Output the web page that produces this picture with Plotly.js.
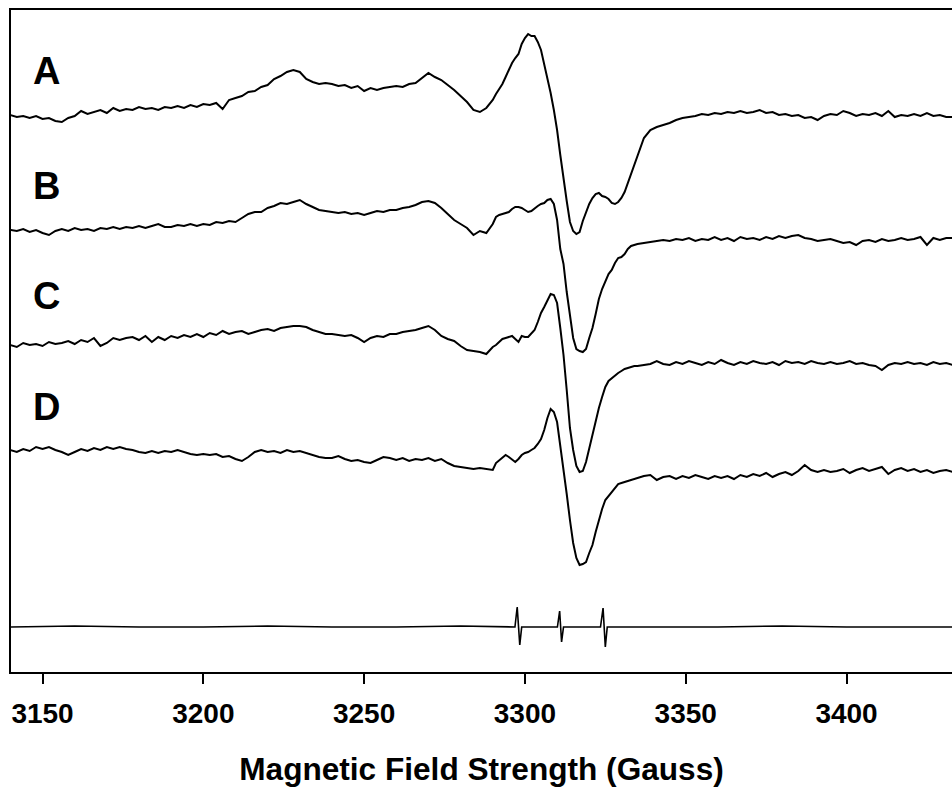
<!DOCTYPE html>
<html>
<head>
<meta charset="utf-8">
<script src="https://cdn.plot.ly/plotly-3.0.1.min.js"></script>
<style>
html, body { margin: 0; padding: 0; background: #fff; overflow: hidden; }
#chart { width: 952px; height: 787px; }
</style>
</head>
<body>
<div id="chart"></div>
<script>
// Magnetic field (Gauss) sampling points
const field = [
  3140,3142,3144,3146,3148,3150,3152,3154,3156,3158,
  3160,3162,3164,3166,3168,3170,3172,3174,3176,3178,
  3180,3182,3184,3186,3188,3190,3192,3194,3196,3198,
  3200,3202,3204,3206,3208,3210,3212,3214,3216,3218,
  3220,3222,3224,3226,3228,3230,3232,3234,3236,3238,
  3240,3242,3244,3246,3248,3250,3252,3254,3256,3258,
  3260,3262,3264,3266,3268,3270,3272,3274,3276,3278,
  3280,3282,3284,3286,3288,3290,
  3291,3292,3293,3294,3295,3296,3297,3298,3299,3300,
  3301,3302,3303,3304,3305,3306,3307,3308,3309,3310,
  3311,3312,3313,3314,3315,3316,3317,3318,3319,3320,
  3321,3322,3323,3324,3325,3326,3327,3328,3329,3330,
  3331,3332,3333,3334,3335,
  3337,3339,3341,3343,3345,3347,3349,3351,3353,3355,
  3357,3359,3361,3363,3365,3367,3369,3371,3373,3375,
  3377,3379,3381,3383,3385,3387,3389,3391,3393,3395,
  3397,3399,3401,3403,3405,3407,3409,3411,3413,3415,
  3417,3419,3421,3423,3425,3427,3429,3431,3433
];

// EPR signal (arbitrary units, stacked as drawn)
const signalA = [
  557,555,556,554,556,553,554,551,550,554,
  556,561,558,560,562,559,564,561,563,562,
  565,563,564,562,565,564,566,564,567,565,
  568,567,569,563,572,574,576,580,581,585,
  587,593,596,600,602,600,593,590,588,589,
  588,586,587,584,586,581,584,582,584,585,
  586,585,588,589,594,599,595,592,587,582,
  576,570,562,560,564,572,
  578,583,588,595,603,609,614,618,628,634,
  638,636,636,630,622,608,594,579,562,542,
  517,492,471,450,441,438,440,451,460,468,
  474,478,479,476,475,473,469,468,470,474,
  480,489,499,508,515,
  534,542,545,547,549,552,554,555,556,558,
  557,559,558,560,559,561,559,560,562,559,
  560,557,558,556,557,554,555,552,556,558,
  557,561,559,556,558,557,559,556,561,555,
  557,556,558,556,559,556,557,555,555
];

const signalB = [
  442,441,443,440,442,439,437,441,443,441,
  444,442,443,441,444,443,445,443,445,444,
  446,444,446,448,445,445,447,446,448,446,
  448,447,450,449,451,450,454,458,460,460,
  464,466,469,468,470,472,468,465,462,461,
  460,459,460,458,459,457,459,461,460,462,
  462,464,465,467,470,471,469,464,458,452,
  448,444,437,441,439,448,
  455,457,458,459,460,463,465,465,464,462,
  460,461,464,466,468,469,472,473,468,452,
  423,408,380,354,334,323,321,320,323,334,
  344,358,373,383,391,398,402,409,414,415,
  418,423,426,427,428,
  429,430,431,432,431,433,432,434,431,433,
  432,435,432,434,431,435,433,434,432,435,
  433,436,434,436,437,434,433,431,432,433,
  431,429,430,427,431,432,430,433,431,432,
  434,432,433,435,427,434,432,434,434
];

const signalC = [
  327,325,329,327,328,326,330,328,329,331,
  328,332,330,334,326,329,334,332,334,335,
  332,336,330,335,332,336,334,337,335,338,
  335,339,337,341,338,340,341,338,340,342,
  343,341,344,345,346,346,345,342,340,338,
  338,337,336,337,334,330,334,336,335,338,
  338,340,341,342,344,346,342,336,333,331,
  326,322,321,320,318,325,
  327,330,333,334,335,336,333,330,336,335,
  335,338,342,350,359,365,372,378,377,369,
  344,317,282,244,222,206,200,201,210,224,
  236,251,264,275,285,291,294,297,299,301,
  303,304,305,306,306,
  307,308,311,308,307,310,308,311,309,307,
  310,308,312,309,307,310,308,311,309,308,
  310,307,311,309,310,308,311,309,308,310,
  308,309,311,308,309,307,306,302,307,309,
  308,310,308,309,307,310,308,309,307
];

const signalD = [
  222,220,223,221,225,223,225,222,220,217,
  220,223,221,224,222,225,223,225,223,222,
  220,219,221,219,221,220,222,220,218,217,
  218,217,218,215,216,213,211,215,220,222,
  220,221,219,222,220,221,219,217,215,214,
  214,216,213,211,212,210,209,212,215,214,
  212,214,211,213,212,214,211,213,209,206,
  205,204,203,204,203,202,
  209,212,215,217,215,212,210,213,217,219,
  220,222,224,228,233,242,254,263,260,250,
  227,204,178,152,129,114,107,108,110,119,
  127,140,153,163,172,176,180,184,188,189,
  190,191,192,193,194,
  196,197,192,195,196,193,196,194,197,195,
  193,196,194,196,193,197,195,198,196,199,
  195,198,200,197,201,207,202,200,202,200,
  201,203,199,202,204,201,203,205,198,202,
  204,201,203,200,202,199,201,202,200
];

// Field-calibration standard (three narrow derivative lines)
const markerField = [3140,3160,3180,3200,3220,3240,3260,3280,3296.9,3297.6,3298.4,3299.0,
                     3310.1,3310.8,3311.4,3312.0,3323.5,3324.3,3325.0,3325.6,
                     3340,3360,3380,3400,3420,3433];
const markerSignal = [45,46,45,45,46,45,45,46,45,65,27,45,
                      45,61,30,45,45,64,25,45,
                      45,45,46,45,45,45];

const sampleLabels = ['A','B','C','D'];
const sampleSignals = [signalA, signalB, signalC, signalD];
const tickValues = [3150,3200,3250,3300,3350,3400];
const tickLabels = ['3150','3200','3250','3300','3350','3400'];

const traces = sampleSignals.map((s, i) => ({
  x: field, y: s, type: 'scatter', mode: 'lines', name: sampleLabels[i],
  line: {color: '#000', width: 2}, hoverinfo: 'skip'
}));
traces.push({
  x: markerField, y: markerSignal, type: 'scatter', mode: 'lines', name: 'standard',
  line: {color: '#000', width: 1.6}, hoverinfo: 'skip'
});

const labelY = [601, 486, 376, 265];
const annotations = sampleLabels.map((t, i) => ({
  text: t, x: 3146.3, y: labelY[i], xref: 'x', yref: 'y',
  xanchor: 'left', yanchor: 'middle', showarrow: false,
  font: {family: 'Liberation Sans, Arial, sans-serif', size: 38, weight: 'bold', color: '#000'}
}));

const layout = {
  width: 952, height: 787,
  margin: {l: 11, r: 0, t: 10, b: 115, pad: 0},
  paper_bgcolor: '#fff', plot_bgcolor: '#fff',
  showlegend: false,
  xaxis: {
    range: [3140.2, 3432.8],
    tickvals: tickValues, ticktext: tickLabels,
    ticks: 'outside', ticklen: 10, tickwidth: 2, tickcolor: '#000',
    ticklabelstandoff: 5,
    showline: true, linewidth: 2, linecolor: '#000', mirror: true,
    showgrid: false, zeroline: false,
    tickfont: {family: 'Liberation Sans, Arial, sans-serif', size: 28, weight: 'bold', color: '#000'},
    title: {text: 'Magnetic Field Strength (Gauss)', standoff: 31,
            font: {family: 'Liberation Sans, Arial, sans-serif', size: 31.6, weight: 'bold', color: '#000'}}
  },
  yaxis: {
    range: [0, 662],
    showline: true, linewidth: 2, linecolor: '#000', mirror: false,
    showticklabels: false, ticks: '', showgrid: false, zeroline: false
  },
  annotations: annotations
};

Plotly.newPlot('chart', traces, layout, {displayModeBar: false, staticPlot: true});
</script>
</body>
</html>
